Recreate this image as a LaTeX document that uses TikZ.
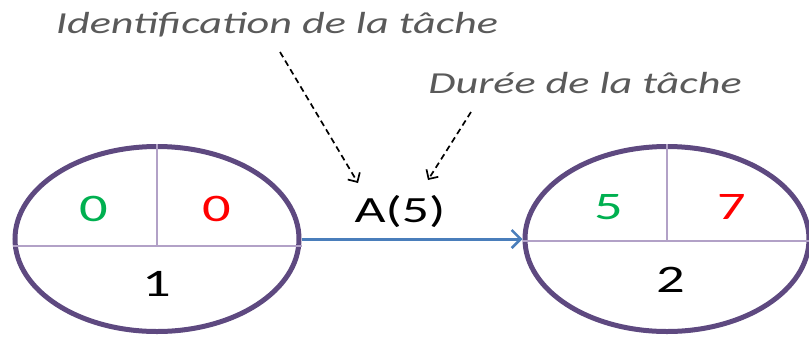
\documentclass[tikz,border=0pt]{standalone}
\usepackage{fontspec}
\setmainfont{Carlito}[FakeStretch=1.45]
\usetikzlibrary{shapes.geometric, arrows.meta, positioning, calc}

\definecolor{evtpurple}{RGB}{94,73,128}
\definecolor{divpurple}{RGB}{178,161,199}
\definecolor{flowblue}{RGB}{74,126,187}
\definecolor{earlygreen}{RGB}{0,176,80}
\definecolor{latered}{RGB}{255,0,0}
\definecolor{notegray}{RGB}{90,90,90}

\begin{document}
\begin{tikzpicture}[
    x=1pt, y=-1pt,
    event/.style={ellipse, draw=evtpurple, line width=5pt, minimum width=284pt, minimum height=185pt, inner sep=0pt},
    divider/.style={draw=divpurple, line width=1.3pt},
    digit/.style={font=\fontsize{39}{42}\selectfont, inner sep=0pt},
    early/.style={digit, text=earlygreen},
    late/.style={digit, text=latered},
    label/.style={font=\fontsize{37}{40}\selectfont, anchor=base, inner sep=0pt},
    note/.style={font=\fontsize{30.5}{33}\selectfont\itshape, text=notegray, anchor=base, inner sep=0pt},
    flow/.style={draw=flowblue, line width=3pt, -{Straight Barb[length=9pt, width=18pt, line width=2.6pt]}},
    hint/.style={draw, line width=1.7pt, dash pattern=on 6pt off 4pt, -{Straight Barb[length=7pt, width=14pt, line width=1.7pt]}}
]
\useasboundingbox (0,0) rectangle (809,341);

% events
\node [event] (e1) at (157,239) {};
\node [event] (e2) at (667,239) {};

\draw [divider] ($(e1.west)+(0,7)$) -- ($(e1.east)+(0,7)$);
\draw [divider] (e1.north) -- ($(e1.center)+(0,7)$);
\draw [divider] ($(e2.west)+(0,2)$) -- ($(e2.east)+(0,2)$);
\draw [divider] (e2.north) -- ($(e2.center)+(0,2)$);

\node [early] (e1early) at (94,209) {0};
\node [late] (e1late) at (217,209) {0};
\node [digit] (e1num) at (157,284) {1};
\node [early] (e2early) at (609,207) {5};
\node [late] (e2late) at (732,207) {7};
\node [digit] (e2num) at (671,280) {2};

% task
\node [label] (task) at (400,222) {A(5)};
\path [flow] (e1.east) -- (e2.west);

% notes
\node [note] (ident) at (277,33) {Identification de la tâche};
\node [note] (duree) at (585,93) {Durée de la tâche};

\coordinate (identfoot) at (280,52);
\coordinate (identtip) at (358,183);
\coordinate (dureefoot) at (471,112);
\coordinate (dureetip) at (428,180);
\path [hint] (identfoot) -- (identtip);
\path [hint] (dureefoot) -- (dureetip);

\end{tikzpicture}
\end{document}
